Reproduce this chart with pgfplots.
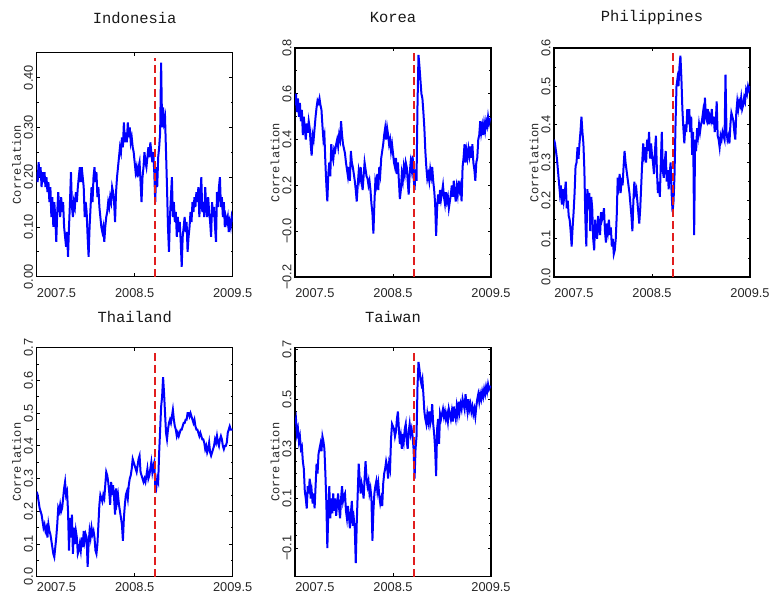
\documentclass[border=0pt]{standalone}
\usepackage{pgfplots}
\usepackage{pgfplotstable}
\pgfplotsset{compat=1.18}
\usepackage{fontspec}
\setmainfont{Liberation Sans}
\newfontfamily\monofont{Liberation Mono}
\newcommand\ticksfont{\fontsize{9.6}{11}\selectfont}
\newcommand\labfont{\monofont\fontsize{9}{10}\selectfont}
\newcommand\titfont{\monofont\fontsize{11.6}{13}\selectfont}
\definecolor{lineblue}{RGB}{0,0,255}
\definecolor{eventred}{RGB}{225,30,30}

\pgfplotstableread{
x ind kor phi tha tai
2007.50 0.21 0.55 0.36 0.26 0.40
2007.51 0.19 0.60 0.35 0.25 0.42
2007.52 0.23 0.52 0.33 0.23 0.36
2007.53 0.20 0.58 0.31 0.21 0.38
2007.54 0.22 0.50 0.28 0.20 0.33
2007.55 0.18 0.56 0.25 0.19 0.35
2007.56 0.21 0.48 0.22 0.17 0.30
2007.57 0.19 0.53 0.24 0.15 0.31
2007.58 0.21 0.42 0.19 0.16 0.25
2007.59 0.18 0.50 0.23 0.14 0.22
2007.60 0.20 0.45 0.20 0.15 0.13
2007.61 0.17 0.40 0.22 0.12 0.10
2007.62 0.19 0.47 0.25 0.16 0.06
2007.63 0.15 0.43 0.18 0.14 0.15
2007.64 0.18 0.48 0.20 0.13 0.12
2007.65 0.12 0.45 0.16 0.11 0.18
2007.66 0.16 0.38 0.15 0.09 0.10
2007.67 0.10 0.33 0.12 0.07 0.13
2007.68 0.15 0.42 0.08 0.06 0.08
2007.69 0.12 0.40 0.13 0.09 0.12
2007.70 0.07 0.45 0.17 0.12 0.06
2007.71 0.13 0.50 0.22 0.16 0.15
2007.72 0.17 0.54 0.29 0.21 0.24
2007.73 0.14 0.57 0.30 0.20 0.20
2007.74 0.12 0.56 0.34 0.22 0.28
2007.75 0.16 0.58 0.31 0.20 0.30
2007.76 0.13 0.55 0.35 0.21 0.32
2007.77 0.15 0.53 0.38 0.24 0.29
2007.78 0.10 0.46 0.42 0.27 0.35
2007.79 0.08 0.40 0.38 0.29 0.33
2007.80 0.06 0.42 0.35 0.25 0.30
2007.81 0.09 0.30 0.28 0.26 0.20
2007.82 0.04 0.20 0.15 0.20 0.08
2007.83 0.10 0.13 0.08 0.08 -0.10
2007.84 0.15 0.25 0.23 0.18 0.05
2007.85 0.21 0.30 0.20 0.12 0.15
2007.86 0.14 0.24 0.22 0.19 0.02
2007.87 0.12 0.38 0.12 0.07 0.10
2007.88 0.15 0.33 0.21 0.15 0.04
2007.89 0.14 0.31 0.18 0.10 0.12
2007.90 0.17 0.36 0.10 0.14 0.05
2007.91 0.15 0.35 0.07 0.12 0.10
2007.92 0.18 0.38 0.15 0.07 0.03
2007.93 0.20 0.40 0.12 0.08 0.08
2007.94 0.22 0.37 0.10 0.10 0.12
2007.95 0.19 0.42 0.16 0.08 0.06
2007.96 0.22 0.40 0.13 0.12 0.02
2007.97 0.20 0.48 0.11 0.09 0.10
2007.98 0.18 0.42 0.17 0.14 0.15
2007.99 0.12 0.38 0.15 0.11 0.09
2008.00 0.15 0.36 0.16 0.13 0.11
2008.01 0.13 0.34 0.18 0.12 0.12
2008.02 0.08 0.30 0.12 0.03 0.05
2008.03 0.04 0.27 0.09 0.10 0.02
2008.04 0.10 0.24 0.14 0.14 0.07
2008.05 0.14 0.28 0.12 0.12 0.03
2008.06 0.18 0.22 0.15 0.15 -0.02
2008.07 0.15 0.35 0.11 0.13 0.04
2008.08 0.20 0.30 0.13 0.14 0.09
2008.09 0.22 0.28 0.08 0.12 -0.01
2008.10 0.19 0.25 0.10 0.08 0.02
2008.11 0.21 0.22 0.06 0.07 -0.02
2008.12 0.16 0.18 0.07 0.10 -0.16
2008.13 0.18 0.13 0.10 0.16 0.00
2008.14 0.14 0.20 0.16 0.22 0.12
2008.15 0.12 0.26 0.26 0.25 0.24
2008.16 0.10 0.23 0.24 0.24 0.18
2008.17 0.09 0.28 0.27 0.23 0.12
2008.18 0.10 0.22 0.22 0.25 0.16
2008.19 0.07 0.18 0.26 0.24 0.14
2008.20 0.10 0.24 0.24 0.28 0.10
2008.21 0.12 0.30 0.29 0.32 0.18
2008.22 0.13 0.27 0.33 0.31 0.25
2008.23 0.15 0.24 0.30 0.29 0.18
2008.24 0.14 0.23 0.28 0.26 0.15
2008.25 0.16 0.20 0.26 0.22 0.17
2008.26 0.15 0.22 0.24 0.29 0.12
2008.27 0.18 0.18 0.22 0.25 0.14
2008.28 0.17 0.12 0.19 0.28 0.10
2008.29 0.15 0.08 0.16 0.24 -0.07
2008.30 0.11 -0.01 0.12 0.19 0.05
2008.31 0.17 0.12 0.20 0.27 0.12
2008.32 0.20 0.22 0.25 0.23 0.15
2008.33 0.22 0.20 0.22 0.25 0.17
2008.34 0.24 0.25 0.23 0.22 0.13
2008.35 0.26 0.18 0.20 0.20 0.16
2008.36 0.25 0.28 0.17 0.18 0.11
2008.37 0.28 0.25 0.14 0.16 0.08
2008.38 0.26 0.32 0.18 0.11 0.10
2008.39 0.31 0.35 0.24 0.18 0.07
2008.40 0.27 0.38 0.30 0.22 0.16
2008.41 0.29 0.42 0.35 0.25 0.20
2008.42 0.27 0.45 0.32 0.26 0.22
2008.43 0.31 0.40 0.34 0.24 0.25
2008.44 0.28 0.45 0.30 0.28 0.23
2008.45 0.30 0.42 0.36 0.30 0.18
2008.46 0.27 0.38 0.33 0.31 0.24
2008.47 0.28 0.40 0.38 0.33 0.22
2008.48 0.26 0.35 0.31 0.36 0.34
2008.49 0.25 0.38 0.35 0.35 0.40
2008.50 0.23 0.34 0.32 0.34 0.39
2008.51 0.21 0.30 0.30 0.33 0.38
2008.52 0.22 0.28 0.27 0.32 0.35
2008.53 0.20 0.32 0.33 0.34 0.37
2008.54 0.22 0.25 0.37 0.36 0.42
2008.55 0.23 0.30 0.28 0.37 0.45
2008.56 0.19 0.22 0.22 0.32 0.38
2008.57 0.15 0.14 0.25 0.31 0.32
2008.58 0.20 0.18 0.21 0.30 0.35
2008.59 0.22 0.25 0.30 0.29 0.30
2008.60 0.25 0.22 0.38 0.30 0.36
2008.61 0.23 0.28 0.28 0.29 0.33
2008.62 0.22 0.25 0.26 0.31 0.38
2008.63 0.24 0.30 0.30 0.33 0.40
2008.64 0.26 0.28 0.33 0.30 0.33
2008.65 0.24 0.22 0.25 0.31 0.30
2008.66 0.27 0.16 0.28 0.33 0.37
2008.67 0.25 0.25 0.23 0.35 0.40
2008.68 0.23 0.30 0.27 0.32 0.36
2008.69 0.25 0.27 0.30 0.34 0.38
2008.70 0.21 0.33 0.22 0.35 0.35
2008.71 0.15 0.24 0.17 0.28 0.30
2008.72 0.22 0.18 0.20 0.27 0.18
2008.73 0.18 0.27 0.27 0.30 0.30
2008.74 0.24 0.22 0.40 0.29 0.35
2008.75 0.26 0.55 0.50 0.38 0.55
2008.76 0.29 0.77 0.52 0.45 0.65
2008.77 0.43 0.72 0.50 0.52 0.62
2008.78 0.30 0.66 0.55 0.55 0.58
2008.79 0.34 0.60 0.58 0.61 0.56
2008.80 0.31 0.58 0.52 0.56 0.58
2008.81 0.32 0.52 0.44 0.50 0.52
2008.82 0.25 0.45 0.39 0.44 0.45
2008.83 0.18 0.35 0.35 0.42 0.42
2008.84 0.10 0.28 0.40 0.45 0.40
2008.85 0.05 0.23 0.38 0.47 0.44
2008.86 0.12 0.25 0.44 0.48 0.41
2008.87 0.16 0.22 0.40 0.47 0.45
2008.88 0.20 0.27 0.44 0.49 0.40
2008.89 0.12 0.24 0.38 0.51 0.42
2008.90 0.15 0.28 0.42 0.48 0.48
2008.91 0.11 0.22 0.32 0.46 0.40
2008.92 0.13 0.18 0.38 0.45 0.36
2008.93 0.08 0.12 0.11 0.43 0.30
2008.94 0.12 -0.02 0.36 0.44 0.19
2008.95 0.09 0.10 0.33 0.43 0.38
2008.96 0.11 0.16 0.39 0.44 0.42
2008.97 0.07 0.12 0.37 0.45 0.32
2008.98 0.02 0.18 0.40 0.45 0.44
2008.99 0.08 0.14 0.38 0.46 0.42
2009.00 0.10 0.17 0.40 0.47 0.44
2009.01 0.12 0.20 0.41 0.47 0.46
2009.02 0.09 0.15 0.43 0.48 0.43
2009.03 0.11 0.12 0.40 0.48 0.45
2009.04 0.05 0.17 0.47 0.50 0.42
2009.05 0.08 0.13 0.42 0.50 0.44
2009.06 0.10 0.15 0.41 0.49 0.41
2009.07 0.13 0.10 0.44 0.50 0.46
2009.08 0.11 0.13 0.40 0.49 0.44
2009.09 0.15 0.16 0.42 0.48 0.42
2009.10 0.13 0.20 0.41 0.47 0.45
2009.11 0.16 0.15 0.44 0.48 0.41
2009.12 0.14 0.22 0.40 0.46 0.47
2009.13 0.17 0.17 0.42 0.45 0.44
2009.14 0.15 0.13 0.38 0.45 0.42
2009.15 0.18 0.19 0.40 0.44 0.47
2009.16 0.12 0.16 0.46 0.43 0.44
2009.17 0.16 0.22 0.37 0.44 0.49
2009.18 0.20 0.18 0.36 0.43 0.45
2009.19 0.13 0.20 0.34 0.42 0.48
2009.20 0.15 0.13 0.37 0.42 0.46
2009.21 0.12 0.28 0.36 0.41 0.50
2009.22 0.18 0.32 0.38 0.39 0.48
2009.23 0.14 0.38 0.37 0.40 0.46
2009.24 0.12 0.30 0.36 0.38 0.52
2009.25 0.16 0.35 0.53 0.39 0.48
2009.26 0.13 0.32 0.38 0.41 0.45
2009.27 0.11 0.36 0.36 0.38 0.50
2009.28 0.08 0.33 0.37 0.37 0.46
2009.29 0.15 0.37 0.35 0.38 0.48
2009.30 0.12 0.32 0.40 0.39 0.45
2009.31 0.14 0.38 0.43 0.40 0.47
2009.32 0.10 0.30 0.42 0.42 0.44
2009.33 0.07 0.27 0.41 0.41 0.46
2009.34 0.17 0.22 0.38 0.43 0.43
2009.35 0.14 0.30 0.36 0.41 0.47
2009.36 0.18 0.32 0.43 0.40 0.50
2009.37 0.20 0.40 0.46 0.42 0.52
2009.38 0.14 0.42 0.44 0.43 0.49
2009.39 0.16 0.48 0.46 0.42 0.52
2009.40 0.12 0.43 0.45 0.40 0.50
2009.41 0.15 0.46 0.47 0.39 0.53
2009.42 0.10 0.42 0.44 0.40 0.51
2009.43 0.12 0.47 0.45 0.40 0.54
2009.44 0.11 0.44 0.47 0.41 0.52
2009.45 0.12 0.48 0.46 0.44 0.55
2009.46 0.09 0.46 0.49 0.45 0.53
2009.47 0.11 0.50 0.48 0.46 0.56
2009.48 0.10 0.47 0.50 0.45 0.54
2009.49 0.12 0.49 0.49 0.45 0.55
2009.50 0.11 0.49 0.50 0.45 0.55
}\corrdata

\pgfplotsset{
  panel/.style={
    scale only axis,
    width=147pt, height=171.75pt,
    anchor=south west,
    xmin=2007.5, xmax=2009.5,
    xtick={2008.5,2009.5}, xticklabels={2008.5,2009.5},
    extra x ticks={2007.5}, extra x tick labels={2007.5},
    extra x tick style={xticklabel style={anchor=north west}},
    tick align=inside, tick pos=both,
    major tick length=2.6pt, minor tick length=1.6pt,
    every tick/.style={black, line width=0.6pt},
    axis line style={line width=1pt},
    xticklabel style={font=\ticksfont, text=black!85, inner sep=0pt, anchor=north, yshift=-8.5pt},
    yticklabel style={font=\ticksfont, text=black!85, rotate=90, anchor=south, inner sep=2.5pt},
    minor y tick num=1,
    ylabel={Correlation},
    ylabel style={font=\labfont, text=black!85, at={(axis description cs:-0.102,0.5)}, anchor=center},
    title style={font=\titfont, text=black!90, at={(axis description cs:0.5,1)}, anchor=center},
  },
  bottomrow/.style={xticklabel style={yshift=4pt}},
  series/.style={lineblue, line width=1.5pt},
  event/.style={eventred, line width=1.5pt, dash pattern=on 6pt off 3pt},
}

\begin{document}
\begin{tikzpicture}
\path[use as bounding box] (0,0) rectangle (580.5pt,447.75pt);

% Indonesia
\begin{axis}[panel, at={(27.5pt,240.2pt)}, height=168pt,
  title={Indonesia}, title style={yshift=20pt},
  ymin=0, ymax=0.45,
  ytick={0,0.1,0.2,0.3,0.4}, yticklabels={0.00,0.10,0.20,0.30,0.40}]
  \addplot[series] table[x=x, y=ind] {\corrdata};
  \addplot[event] coordinates {(2008.71,0) (2008.71,0.44)};
\end{axis}

% Korea
\begin{axis}[panel, at={(221.25pt,240pt)},
  title={Korea}, title style={yshift=17.25pt},
  ymin=-0.2, ymax=0.8,
  ytick={-0.2,0,0.2,0.4,0.6,0.8}, yticklabels={−0.2,−0.0,0.2,0.4,0.6,0.8}]
  \addplot[series] table[x=x, y=kor] {\corrdata};
  \addplot[event] coordinates {(2008.71,-0.2) (2008.71,0.79)};
\end{axis}

% Philippines
\begin{axis}[panel, at={(415.5pt,240pt)},
  title={Philippines}, title style={yshift=17.25pt},
  ymin=0, ymax=0.6,
  ytick={0,0.1,0.2,0.3,0.4,0.5,0.6}, yticklabels={0.0,0.1,0.2,0.3,0.4,0.5,0.6}]
  \addplot[series] table[x=x, y=phi] {\corrdata};
  \addplot[event] coordinates {(2008.71,0) (2008.71,0.59)};
\end{axis}

% Thailand
\begin{axis}[panel, bottomrow, at={(27.5pt,15.2pt)},
  title={Thailand}, title style={yshift=17pt},
  ymin=0, ymax=0.7,
  ytick={0,0.1,0.2,0.3,0.4,0.5,0.6,0.7}, yticklabels={0.0,0.1,0.2,0.3,0.4,0.5,0.6,0.7}]
  \addplot[series] table[x=x, y=tha] {\corrdata};
  \addplot[event] coordinates {(2008.71,0) (2008.71,0.69)};
\end{axis}

% Taiwan
\begin{axis}[panel, bottomrow, at={(221.25pt,15.2pt)},
  title={Taiwan}, title style={yshift=17pt},
  ymin=-0.215, ymax=0.707, minor y tick num=3,
  ytick={-0.1,0.1,0.3,0.5,0.7}, yticklabels={−0.1,0.1,0.3,0.5,0.7}]
  \addplot[series] table[x=x, y=tai] {\corrdata};
  \addplot[event] coordinates {(2008.71,-0.215) (2008.71,0.7)};
\end{axis}
\end{tikzpicture}
\end{document}
